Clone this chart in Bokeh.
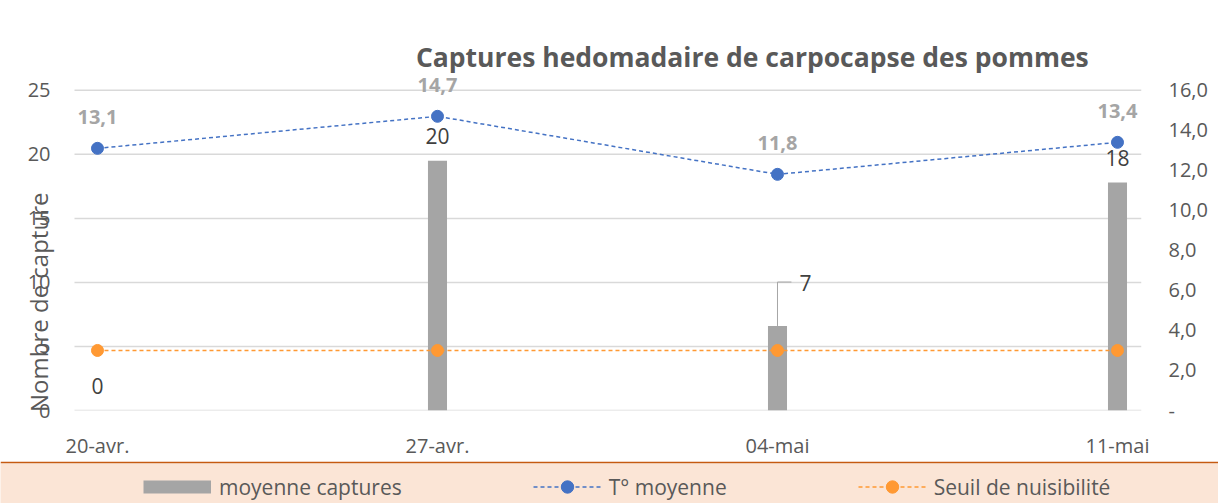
import math
from bokeh.plotting import figure
from bokeh.models import (Range1d, LinearAxis, FixedTicker, ColumnDataSource, LabelSet, Label,
                          CustomJSTickFormatter, Legend, LegendItem)
from bokeh.layouts import column
from bokeh.embed import file_html
from bokeh.resources import INLINE
from bokeh.core.properties import value

# ---- data ----
dates = ["20-avr.", "27-avr.", "04-mai", "11-mai"]
captures = [0, 19.5, 6.6, 17.8]
temperature = [13.1, 14.7, 11.8, 13.4]
seuil = [3.0, 3.0, 3.0, 3.0]
left_ticks = [0, 5, 10, 15, 20, 25]
right_ticks = [0, 2, 4, 6, 8, 10, 12, 14, 16]
title_text = "Captures hedomadaire de carpocapse des pommes"
y_label = "Nombre de capture"
legend_labels = ["moyenne captures", "T° moyenne", "Seuil de nuisibilité"]

# ---- styles / geometry ----
FONT = "Open Sans"
TXT = "#595959"
GRID = "#D9D9D9"
BAR = "#A5A5A5"
BLUE = "#4472C4"
ORANGE = "#FF9933"
W, H_MAIN, H_LEG = 1218, 461, 42

LEFT_MAX = 25 * 397 / 321           # frame extends above the 25 gridline
RIGHT_MAX = LEFT_MAX * 16 / 25
X0, X1 = -0.2382, 3.0706            # frame extends left to hold the axis title
GRID_X0 = -0.0676

xs = list(range(len(dates)))

p = figure(width=W, height=H_MAIN, output_backend="svg", toolbar_location=None,
           x_range=Range1d(X0, X1), y_range=Range1d(0, LEFT_MAX),
           min_border_left=16, min_border_right=77, min_border_top=14, min_border_bottom=50)
p.frame_align = False
p.outline_line_color = None
p.extra_y_ranges = {"t": Range1d(0, RIGHT_MAX)}

p.xaxis.ticker = FixedTicker(ticks=xs)
p.xaxis.major_label_overrides = {i: d for i, d in enumerate(dates)}
p.yaxis.ticker = FixedTicker(ticks=left_ticks)
right = LinearAxis(y_range_name="t", ticker=FixedTicker(ticks=right_ticks),
                   formatter=CustomJSTickFormatter(
                       code="return tick == 0 ? '-' : tick.toFixed(1).replace('.', ',');"))
p.add_layout(right, "right")

for ax in p.axis:
    ax.axis_line_color = None
    ax.major_tick_line_color = None
    ax.minor_tick_line_color = None
    ax.major_tick_out = 0
    ax.major_label_text_font = FONT
    ax.major_label_text_font_size = "20px"
    ax.major_label_text_color = TXT
p.xaxis.major_label_standoff = 21
p.yaxis[0].major_label_standoff = -34
right.major_label_standoff = 27

p.grid.visible = False
# horizontal gridlines at the left-axis ticks
p.segment(x0=GRID_X0, x1=X1, y0=left_ticks, y1=left_ticks, line_color=GRID, line_width=1.5)

# bars
p.vbar(x=xs, top=captures, width=0.056, fill_color=BAR, line_color=None)

# seuil
p.line(xs, seuil, y_range_name="t", line_color=ORANGE, line_dash="4 3", line_width=1.5)
p.scatter(xs, seuil, y_range_name="t", size=12, fill_color=ORANGE, line_color=ORANGE)

# temperature
p.line(xs, temperature, y_range_name="t", line_color=BLUE, line_dash="4 3", line_width=1.5)
p.scatter(xs, temperature, y_range_name="t", size=12, fill_color=BLUE, line_color=BLUE)

# temperature labels
tsrc = ColumnDataSource(dict(x=xs, y=temperature,
                             text=[f"{t:.1f}".replace(".", ",") for t in temperature]))
p.add_layout(LabelSet(x="x", y="y", text="text", source=tsrc, y_range_name="t", y_offset=31,
                      text_align="center", text_baseline="middle", text_font=value(FONT),
                      text_font_size="20px", text_font_style="bold", text_color=BAR))

# bar labels
moved = 2  # label of 04-mai moved with a leader line
bdx = [28 if i == moved else 0 for i in xs]
bdy = [43 if i == moved else 25 for i in xs]
bsrc = ColumnDataSource(dict(x=xs, y=captures, text=[str(int(v + 0.5)) for v in captures],
                             dx=bdx, dy=bdy))
p.add_layout(LabelSet(x="x", y="y", text="text", source=bsrc, x_offset="dx", y_offset="dy",
                      text_align="center", text_baseline="middle", text_font=value(FONT),
                      text_font_size="21px", text_color="#404040"))

# leader line for the moved label
lv = captures[moved]
p.line([moved, moved, moved + 0.041], [lv, lv + 3.43, lv + 3.43], line_color="#A6A6A6", line_width=1)

# title and y label
p.add_layout(Label(x=1.926, y=27.57, text=title_text, text_align="center", text_baseline="middle",
                   text_font=FONT, text_font_size="26.5px", text_font_style="bold",
                   text_color=TXT))
p.add_layout(Label(x=-0.1735, y=8.45, text=y_label, angle=math.pi / 2, text_align="center",
                   text_baseline="middle", text_font=FONT, text_font_size="24px",
                   text_color=TXT, level="underlay"))

# ---- legend strip ----
p2 = figure(width=W, height=H_LEG, output_backend="svg", toolbar_location=None,
            x_range=Range1d(0, 1), y_range=Range1d(0, 1), x_axis_type=None, y_axis_type=None,
            min_border=0, min_border_top=2)
p2.frame_align = False
p2.background_fill_color = "#FBE5D6"
p2.border_fill_color = "#C55A11"
p2.outline_line_color = None
p2.grid.visible = False
nan = [float("nan")]
r1 = p2.line(x=nan, y=nan, line_color=BAR, line_width=13, line_cap="butt")
r2 = p2.line(x=nan, y=nan, line_color=BLUE, line_dash="4 3", line_width=1.5)
r2s = p2.scatter(x=nan, y=nan, size=12, fill_color=BLUE, line_color=BLUE)
r3 = p2.line(x=nan, y=nan, line_color=ORANGE, line_dash="4 3", line_width=1.5)
r3s = p2.scatter(x=nan, y=nan, size=12, fill_color=ORANGE, line_color=ORANGE)
legend = Legend(items=[LegendItem(label=legend_labels[0], renderers=[r1]),
                       LegendItem(label=legend_labels[1], renderers=[r2, r2s]),
                       LegendItem(label=legend_labels[2], renderers=[r3, r3s])],
                orientation="horizontal", location=(143, 1), spacing=131,
                glyph_width=68, glyph_height=31, label_standoff=8,
                background_fill_alpha=0, border_line_color=None, padding=0, margin=0,
                label_text_font=FONT, label_text_font_size="21px", label_text_color=TXT)
p2.add_layout(legend)

layout = column(p, p2)
open("out.html", "w").write(file_html(layout, INLINE))
